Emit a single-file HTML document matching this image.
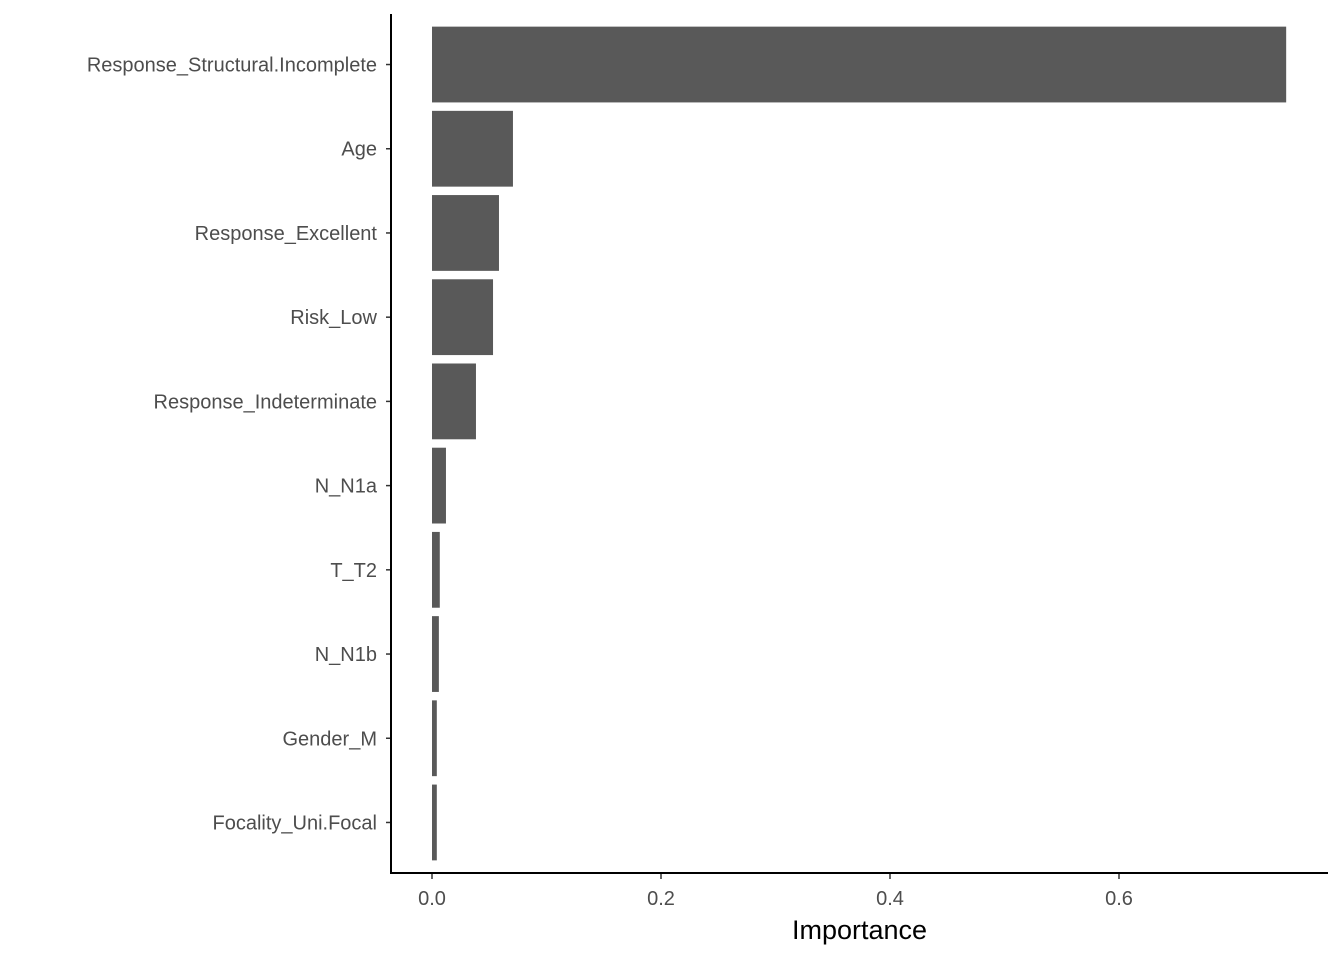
<!DOCTYPE html>
<html><head><meta charset="utf-8"><style>
html,body{margin:0;padding:0;background:#fff}
svg text{font-family:"Liberation Sans",Arial,sans-serif}
</style></head><body>
<svg id="chart" width="1344" height="960" xmlns="http://www.w3.org/2000/svg"></svg>
<script>
const categories = ["Response_Structural.Incomplete","Age","Response_Excellent","Risk_Low","Response_Indeterminate","N_N1a","T_T2","N_N1b","Gender_M","Focality_Uni.Focal"];
const values = [0.746,0.0707,0.0585,0.0533,0.0384,0.0122,0.0068,0.006,0.0042,0.0042];
const xTicks = [0, 0.2, 0.4, 0.6];
const xTickLabels = ["0.0","0.2","0.4","0.6"];

const NS = "http://www.w3.org/2000/svg";
const svg = document.getElementById("chart");
const plotL = 391, plotR = 1328, plotT = 14, plotB = 873;
const x0px = 432, pxPerUnit = 1145;
function xScale(v){ return x0px + v * pxPerUnit; }
const n = categories.length;
const step = (plotB - plotT) / (n - 1 + 1.2);
function yScale(i){ return plotT + (0.6 + i) * step; }
function mk(tag, attrs){ const e = document.createElementNS(NS, tag); for (const k in attrs) e.setAttribute(k, attrs[k]); svg.appendChild(e); return e; }

const bh = step * 0.9;
categories.forEach((c, i) => {
  const yc = yScale(i);
  const r = mk("rect", {x: xScale(0), y: yc - bh/2, width: xScale(values[i]) - xScale(0), height: bh, fill: "#595959"});
  
  
  const t = mk("line", {x1: plotL - 5, x2: plotL, y1: yc, y2: yc, stroke: "#333", "stroke-width": 1.5});
  
  
  const l = mk("text", {x: plotL - 14, y: yc + 7, "text-anchor": "end", "font-size": 20, fill: "#4d4d4d"});
  l.textContent = c;
  
  
});
xTicks.forEach((v, i) => {
  const x = xScale(v);
  const t = mk("line", {x1: x, x2: x, y1: plotB, y2: plotB + 6, stroke: "#333", "stroke-width": 1.5});
  
  
  const l = mk("text", {x: x, y: plotB + 32, "text-anchor": "middle", "font-size": 20, fill: "#4d4d4d"});
  l.textContent = xTickLabels[i];
  
  
});
const ya = mk("line", {x1: plotL, x2: plotL, y1: plotT, y2: plotB + 1, stroke: "#000", "stroke-width": 2});


const xa = mk("line", {x1: plotL - 1, x2: plotR, y1: plotB, y2: plotB, stroke: "#000", "stroke-width": 2});


const title = mk("text", {x: (plotL + plotR)/2, y: 939, "text-anchor": "middle", "font-size": 27, fill: "#000"});
title.textContent = "Importance";


</script>
</body></html>
